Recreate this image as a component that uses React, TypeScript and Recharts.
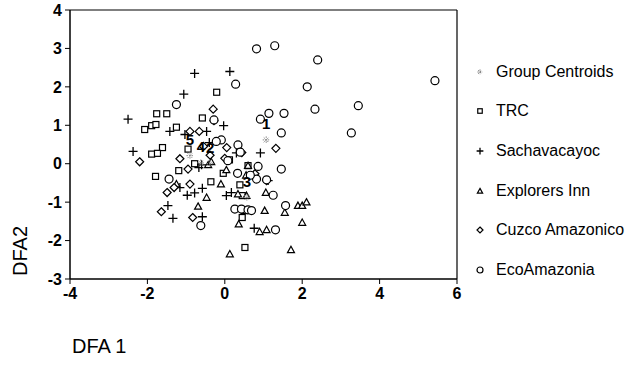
import { ScatterChart, Scatter, XAxis, YAxis, ReferenceLine, Legend } from "recharts";

// DFA scores, [DFA 1, DFA 2]
const trc = [
  [-0.21, 1.86], [-1.76, 1.3], [-1.5, 1.3], [-0.58, 1.19], [-2.07, 0.89], [-1.89, 0.99],
  [-1.78, 1.02], [-1.25, 0.95], [-1.61, 0.42], [-1.89, 0.25], [-1.74, 0.27], [-0.95, 0.38],
  [-0.78, 0.0], [-1.19, -0.18], [-1.79, -0.33], [-0.04, -0.25], [-0.36, -0.47], [0.39, -0.55],
  [0.6, -0.05], [0.12, 0.1], [0.45, -0.83], [0.45, -1.4], [0.52, -2.18], [0.5, -1.22],
];
const sachavacayoc = [
  [-0.78, 2.35], [0.13, 2.4], [-1.06, 1.81], [-2.5, 1.16], [-0.03, 0.99], [-1.42, 0.84],
  [-0.47, 0.84], [-1.03, 0.76], [-2.37, 0.32], [0.92, 0.28], [-0.6, -0.03], [-0.67, -0.1],
  [-1.16, -0.62], [-0.97, -0.82], [-0.78, -0.76], [-0.58, -0.64], [-1.47, -1.09], [-1.34, -1.42],
  [-0.58, -1.38], [0.04, -0.83], [0.17, -0.75], [0.76, -1.68], [1.12, -0.44], [-0.4, 0.55],
  [0.3, 0.28],
];
const explorersInn = [
  [0.04, -0.16], [-0.1, -0.53], [0.6, -0.05], [0.34, -0.79], [0.56, -0.83], [1.06, -0.75],
  [1.03, -1.22], [1.55, -1.27], [1.89, -1.09], [2.0, -1.09], [2.11, -1.0], [2.0, -1.53],
  [0.36, -1.57], [0.9, -1.77], [1.08, -1.72], [0.13, -2.35], [1.71, -2.24], [-0.43, -0.03],
  [-0.47, -0.88], [-0.69, -1.11], [-1.25, -0.53], [0.55, -0.3], [0.75, -0.3], [-0.35, 0.05],
];
const cuzcoAmazonico = [
  [-0.3, 1.42], [-0.28, 1.12], [-0.9, 0.84], [-0.66, 0.84], [0.05, 0.42], [1.32, 0.4],
  [0.44, 0.29], [-1.16, 0.13], [-2.2, 0.05], [-0.95, -0.14], [-0.38, 0.22], [-1.31, -0.62],
  [-0.9, -0.53], [-1.49, -0.75], [-1.64, -1.25], [-0.83, -1.4], [0.78, -0.26], [1.08, -0.44],
  [0.0, 0.14], [-0.55, 0.45],
];
const ecoAmazonia = [
  [0.82, 2.99], [1.29, 3.07], [2.4, 2.7], [5.43, 2.16], [2.13, 2.0], [0.28, 2.07],
  [-1.25, 1.54], [3.45, 1.51], [2.33, 1.42], [1.53, 1.31], [1.14, 1.31], [0.92, 1.16],
  [3.27, 0.8], [1.46, 0.8], [-0.28, 1.14], [0.34, 0.49], [-0.09, 0.62], [-0.22, 0.58],
  [0.4, 0.3], [0.08, 0.08], [1.46, -0.14], [0.86, -0.07], [0.33, -0.25], [0.82, -0.4],
  [1.08, -0.42], [1.25, -0.82], [-1.44, -0.4], [0.26, -1.18], [0.43, -1.18], [0.6, -1.2],
  [0.69, -1.22], [1.57, -1.09], [1.31, -1.72], [-0.62, -1.61], [0.66, -0.3],
];
const centroids = [
  [1.07, 0.62], [-0.38, 0.0], [0.57, -0.88], [-0.62, 0.02], [-0.9, 0.21],
];
const centroidLabels = ["1", "2", "3", "4", "5"];

const xTicks = [-4, -2, 0, 2, 4, 6];
const yTicks = [-3, -2, -1, 0, 1, 2, 3, 4];

const FONT = '"Liberation Sans", Arial, sans-serif';

const toPts = (a: number[][]) => a.map(([x, y]) => ({ x, y }));

function Mark({ kind, cx, cy, s = 1 }: { kind: string; cx: number; cy: number; s?: number }) {
  const st = { stroke: "#000", strokeWidth: 1.2, fill: "#fff" };
  if (kind === "square") {
    const h = 3 * s;
    return <rect x={cx - h} y={cy - h} width={2 * h} height={2 * h} {...st} />;
  }
  if (kind === "plus") {
    const h = 4.5 * s;
    return <path d={`M${cx - h},${cy}H${cx + h}M${cx},${cy - h}V${cy + h}`} stroke="#000" strokeWidth={1.3} />;
  }
  if (kind === "triangle") {
    const h = 3.5 * s;
    return <polygon points={`${cx},${cy - h} ${cx + h},${cy + h * 0.8} ${cx - h},${cy + h * 0.8}`} {...st} />;
  }
  if (kind === "diamond") {
    const h = 4 * s;
    return <polygon points={`${cx},${cy - h} ${cx + h},${cy} ${cx},${cy + h} ${cx - h},${cy}`} {...st} />;
  }
  if (kind === "circle") {
    return <circle cx={cx} cy={cy} r={4 * s} {...st} />;
  }
  // group centroid: faint asterisk
  const h = 3.5 * s;
  const d = h * 0.7;
  return (
    <path
      d={`M${cx - h},${cy}H${cx + h}M${cx},${cy - h}V${cy + h}M${cx - d},${cy - d}L${cx + d},${cy + d}M${cx - d},${cy + d}L${cx + d},${cy - d}`}
      stroke="#888"
      strokeWidth={1}
      strokeDasharray="1.5 1"
    />
  );
}

const series = [
  { name: "TRC", kind: "square", data: trc },
  { name: "Sachavacayoc", kind: "plus", data: sachavacayoc },
  { name: "Explorers Inn", kind: "triangle", data: explorersInn },
  { name: "Cuzco Amazonico", kind: "diamond", data: cuzcoAmazonico },
  { name: "EcoAmazonia", kind: "circle", data: ecoAmazonia },
];

const legendItems = [
  { name: "Group Centroids", kind: "star" },
  ...series.map((s) => ({ name: s.name, kind: s.kind })),
];

function LegendBox() {
  return (
    <div style={{ fontFamily: FONT, fontSize: 16, color: "#000" }}>
      {legendItems.map((it) => (
        <div key={it.name} style={{ height: 39.6, display: "flex", alignItems: "center" }}>
          <svg width={16} height={16} style={{ marginRight: 8 }}>
            <Mark kind={it.kind} cx={8} cy={8} s={0.75} />
          </svg>
          <span>{it.name}</span>
        </div>
      ))}
    </div>
  );
}

const centroidPts = centroids.map(([x, y], i) => ({ x, y, label: centroidLabels[i] }));

export default function App() {
  return (
    <div style={{ position: "absolute", left: 0, top: 0, background: "#fff" }}>
      <ScatterChart width={643} height={369} margin={{ top: 10, right: 186, left: 10, bottom: 60 }}>
        <XAxis
          type="number"
          dataKey="x"
          domain={[-4, 6]}
          ticks={xTicks}
          interval={0}
          tickSize={5}
          tickMargin={4}
          height={30}
          axisLine={{ stroke: "#000", strokeWidth: 1.5 }}
          tickLine={{ stroke: "#000" }}
          tick={{ fill: "#000", fontSize: 16, fontWeight: 700, fontFamily: FONT }}
          label={{
            content: (p: any) => (
              <text x={p.viewBox.x + 2} y={p.viewBox.y + 74} fontSize={20} fontFamily={FONT} fill="#000">
                DFA 1
              </text>
            ),
          }}
        />
        <YAxis
          type="number"
          dataKey="y"
          domain={[-3, 4]}
          ticks={yTicks}
          interval={0}
          tickSize={5}
          tickMargin={3}
          width={60}
          axisLine={{ stroke: "#000", strokeWidth: 1.5 }}
          tickLine={{ stroke: "#000" }}
          tick={{ fill: "#000", fontSize: 16, fontWeight: 700, fontFamily: FONT }}
          label={{
            content: () => (
              <text
                x={27}
                y={251}
                transform="rotate(-90, 27, 251)"
                textAnchor="middle"
                fontSize={20}
                fontFamily={FONT}
                fill="#000"
              >
                DFA2
              </text>
            ),
          }}
        />
        <ReferenceLine y={4} stroke="#000" strokeWidth={1.2} />
        <ReferenceLine x={6} stroke="#000" strokeWidth={1.2} />
        {series.map((s) => (
          <Scatter
            key={s.name}
            name={s.name}
            data={toPts(s.data)}
            isAnimationActive={false}
            shape={(p: any) => <Mark kind={s.kind} cx={p.cx} cy={p.cy} />}
          />
        ))}
        <Scatter
          name="Group Centroids"
          data={centroidPts}
          isAnimationActive={false}
          shape={(p: any) => (
            <g>
              <Mark kind="star" cx={p.cx} cy={p.cy} />
              <text
                x={p.cx}
                y={p.cy - 11}
                textAnchor="middle"
                fontSize={15}
                fontWeight={700}
                fontFamily={FONT}
                fill="#000"
              >
                {p.payload.label}
              </text>
            </g>
          )}
        />
        <Legend
          layout="vertical"
          align="center"
          verticalAlign="middle"
          width={171}
          wrapperStyle={{ left: 472, top: 52 }}
          content={() => <LegendBox />}
        />
      </ScatterChart>
    </div>
  );
}
